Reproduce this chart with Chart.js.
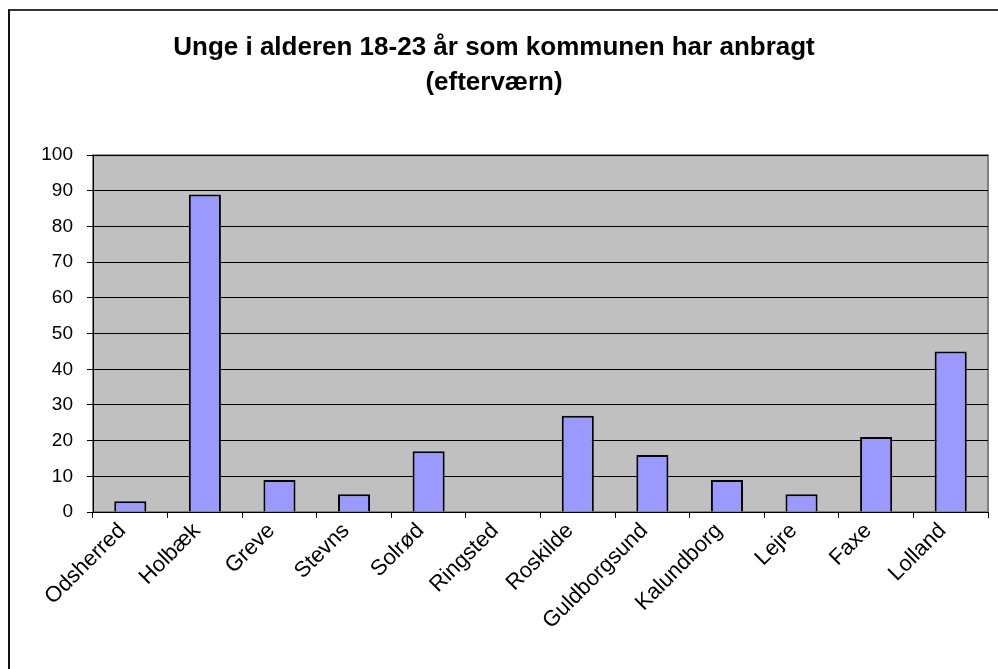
<!DOCTYPE html>
<html>
<head>
<meta charset="utf-8">
<script src="https://cdn.jsdelivr.net/npm/chart.js@4.4.0/dist/chart.umd.min.js"></script>
<style>
    html, body { margin: 0; padding: 0; background: #fff; overflow: hidden; }
    #wrap { position: relative; width: 998px; height: 669px; }
    #frame { position: absolute; left: 8px; top: 9px; width: 1200px; height: 900px;
             border-left: 2px solid #111; border-top: 2px solid #333; }
    canvas { position: absolute; left: 0; top: 0; }
</style>
</head>
<body>
<div id="wrap">
    <div id="frame"></div>
    <canvas id="chart" width="998" height="669"></canvas>
</div>
<script>
const categories = ['Odsherred', 'Holbæk', 'Greve', 'Stevns', 'Solrød', 'Ringsted',
    'Roskilde', 'Guldborgsund', 'Kalundborg', 'Lejre', 'Faxe', 'Lolland'];
const youngPlaced = [3, 89, 9, 5, 17, 0, 27, 16, 9, 5, 21, 45];
const titleLines = ['Unge i alderen 18-23 år som kommunen har anbragt', '(efterværn)'];

const fontFamily = 'Arial, "Liberation Sans", sans-serif';

// grey plot area like the old Excel charts
const plotBg = {
    id: 'plotBg',
    beforeDraw(chart) {
        const { ctx, chartArea: a } = chart;
        ctx.save();
        ctx.fillStyle = '#c0c0c0';
        ctx.fillRect(a.left, a.top, a.right - a.left, a.bottom - a.top);
        ctx.strokeStyle = '#808080';
        ctx.lineWidth = 2;
        ctx.strokeRect(a.left, a.top, a.right - a.left, a.bottom - a.top);
        ctx.restore();
    }
};

new Chart(document.getElementById('chart').getContext('2d'), {
    type: 'bar',
    data: {
        labels: categories,
        datasets: [{
            data: youngPlaced,
            backgroundColor: '#9999ff',
            borderColor: '#000',
            borderWidth: 2,
            barPercentage: 0.43,
            categoryPercentage: 1
        }]
    },
    options: {
        responsive: false,
        animation: false,
        layout: { padding: { left: 0, right: 10, top: 30, bottom: 0 } },
        plugins: {
            legend: { display: false },
            tooltip: { enabled: false },
            title: {
                display: true,
                text: titleLines,
                color: '#000',
                font: { family: fontFamily, size: 26, weight: 'bold', lineHeight: 1.35 },
                padding: { top: 0, bottom: 55 }
            }
        },
        scales: {
            x: {
                grid: { drawOnChartArea: false, drawTicks: true, tickLength: 6, color: '#000', offset: true },
                border: { color: '#000', width: 1 },
                ticks: {
                    color: '#000', font: { family: fontFamily, size: 22 },
                    minRotation: 45, maxRotation: 45, padding: 0, labelOffset: -8, autoSkip: false
                },
                afterFit(s) { s.height = 157; }
            },
            y: {
                min: 0, max: 100,
                grid: { color: '#000', lineWidth: 1, tickLength: 6 },
                border: { color: '#000', width: 1 },
                ticks: { stepSize: 10, color: '#000', font: { family: fontFamily, size: 19 }, padding: 14 },
                afterFit(s) { s.width = 93; }
            }
        }
    },
    plugins: [plotBg]
});
</script>
</body>
</html>
